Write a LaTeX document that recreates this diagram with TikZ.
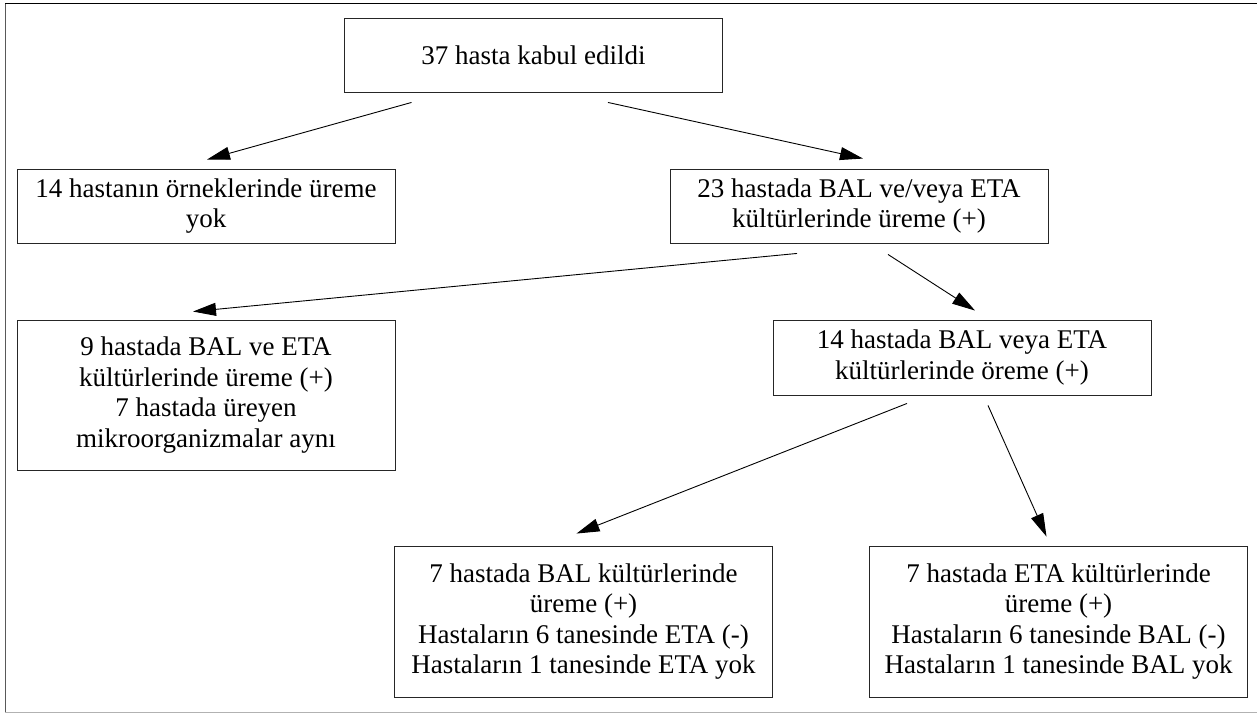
\documentclass[tikz,border=0pt]{standalone}
\usepackage{fontspec}
\setmainfont{Liberation Serif}
\usepackage{tikz}
\usetikzlibrary{arrows.meta, positioning, calc}
\usepackage{xcolor}

\begin{document}
\begin{tikzpicture}[x=1pt, y=-1pt,
  box/.style={draw=black!85, line width=0.9pt, minimum width=378pt, align=center,
    font=\fontsize{27}{30.5}\selectfont, inner sep=0pt},
  arr/.style={-{Triangle[length=23pt, width=13pt]}, line width=0.9pt}]
  \useasboundingbox (0,0) rectangle (1257,714);
  % frame
  \draw[black, line width=1pt] (5,4) -- (1257,4);
  \draw[black!65, line width=1pt] (5,4) -- (5,712.5);
  \draw[black!30, line width=1pt] (5,712.5) -- (1257,712.5);

  % boxes
  \node[box, minimum height=74pt] (kabul) at (533.5,55) {37 hasta kabul edildi};
  \node[box, minimum height=74pt] (yok) at (206,206)
  {14 hastanın örneklerinde üreme\\yok};
  \node[box, minimum height=74pt] (ureme) at (859,206)
  {23 hastada BAL ve/veya ETA\\kültürlerinde üreme (+)};
  \node[box, minimum height=150pt] (ikisi) at (206,395)
  {9 hastada BAL ve ETA\\kültürlerinde üreme (+)\\7 hastada üreyen\\mikroorganizmalar aynı};
  \node[box, minimum height=75pt] (birisi) at (962,357.5)
  {14 hastada BAL veya ETA\\kültürlerinde öreme (+)};
  \node[box, minimum height=151pt] (bal) at (583.5,621.5)
  {7 hastada BAL kültürlerinde\\üreme (+)\\Hastaların 6 tanesinde ETA (-)\\Hastaların 1 tanesinde ETA yok};
  \node[box, minimum height=151pt] (eta) at (1058.5,621.5)
  {7 hastada ETA kültürlerinde\\üreme (+)\\Hastaların 6 tanesinde BAL (-)\\Hastaların 1 tanesinde BAL yok};

  % arrows
  \draw[arr] ([xshift=-122pt, yshift=-10pt]kabul.south) -- ([xshift=1pt, yshift=9pt]yok.north);
  \draw[arr] ([xshift=74.5pt, yshift=-10pt]kabul.south) -- ([xshift=4pt, yshift=10pt]ureme.north);
  \draw[arr] ([xshift=-62pt, yshift=-10pt]ureme.south) -- ([xshift=-13pt, yshift=8pt]ikisi.north);
  \draw[arr] ([xshift=29pt, yshift=-11pt]ureme.south) -- ([xshift=13pt, yshift=9pt]birisi.north);
  \draw[arr] ([xshift=-55pt, yshift=-8pt]birisi.south) -- ([xshift=-7pt, yshift=12pt]bal.north);
  \draw[arr] ([xshift=26pt, yshift=-10pt]birisi.south) -- ([xshift=-12pt, yshift=9pt]eta.north);
\end{tikzpicture}
\end{document}
